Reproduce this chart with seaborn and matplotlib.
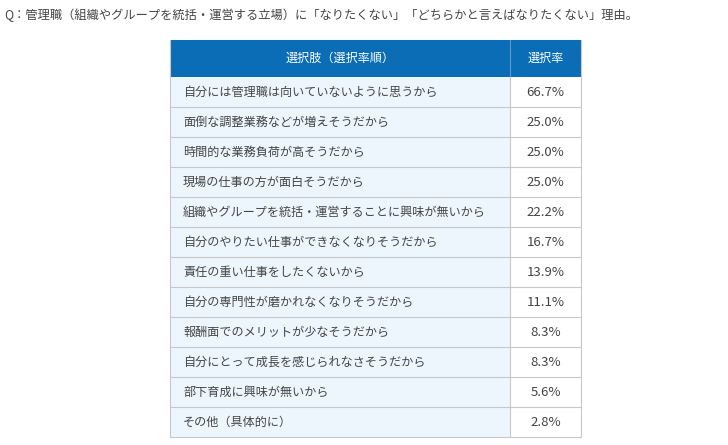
import matplotlib
matplotlib.use("Agg")
import matplotlib.pyplot as plt
from matplotlib.patches import Rectangle
import seaborn as sns

title = "Q：管理職（組織やグループを統括・運営する立場）に「なりたくない」「どちらかと言えばなりたくない」理由。"
headers = ["選択肢（選択率順）", "選択率"]
choices = ["自分には管理職は向いていないように思うから", "面倒な調整業務などが増えそうだから",
           "時間的な業務負荷が高そうだから", "現場の仕事の方が面白そうだから",
           "組織やグループを統括・運営することに興味が無いから", "自分のやりたい仕事ができなくなりそうだから",
           "責任の重い仕事をしたくないから", "自分の専門性が磨かれなくなりそうだから",
           "報酬面でのメリットが少なそうだから", "自分にとって成長を感じられなさそうだから",
           "部下育成に興味が無いから", "その他（具体的に）"]
rates = [66.7, 25.0, 25.0, 25.0, 22.2, 16.7, 13.9, 11.1, 8.3, 8.3, 5.6, 2.8]

sns.set_theme(style="white", rc={"font.family": "Noto Sans CJK JP"})
fig = plt.figure(figsize=(7.28, 4.45), dpi=100)
ax = fig.add_axes([0, 0, 1, 1])
ax.set_xlim(0, 728); ax.set_ylim(445, 0); ax.axis("off")

x0, xm, x1 = 170, 510, 581
hy0, hy1 = 40, 77
rh = 30
blue = "#0a6db5"; grid = "#c8c8c8"; light = "#edf5fd"; txt = "#444444"

ax.text(4, 15, title, fontsize=8.8, color=txt, va="center", ha="left")
ax.add_patch(Rectangle((x0, hy0), x1 - x0, hy1 - hy0, fc=blue, ec="none"))
ax.plot([xm, xm], [hy0, hy1], color="#5a9bd0", lw=0.8)
ax.text((x0 + xm) / 2, (hy0 + hy1) / 2, headers[0], color="white", fontsize=8.7, ha="center", va="center")
ax.text((xm + x1) / 2, (hy0 + hy1) / 2, headers[1], color="white", fontsize=8.7, ha="center", va="center")

for i, (c, r) in enumerate(zip(choices, rates)):
    y = hy1 + i * rh
    ax.add_patch(Rectangle((x0, y), xm - x0, rh, fc=light, ec="none"))
    ax.plot([x0, x1], [y + rh, y + rh], color=grid, lw=0.8)
    ax.text(x0 + 13, y + rh / 2, c, fontsize=8.7, color=txt, ha="left", va="center")
    ax.text((xm + x1) / 2, y + rh / 2, f"{r:.1f}%", fontsize=9.5, color=txt, ha="center", va="center")

yb = hy1 + len(choices) * rh
for xx in (x0, xm, x1):
    ax.plot([xx, xx], [hy1, yb], color=grid, lw=0.8)
ax.plot([x0, x0], [hy0, hy1], color=grid, lw=0.8)
ax.plot([x1, x1], [hy0, hy1], color=grid, lw=0.8)

fig.savefig("out.png", dpi=100)
